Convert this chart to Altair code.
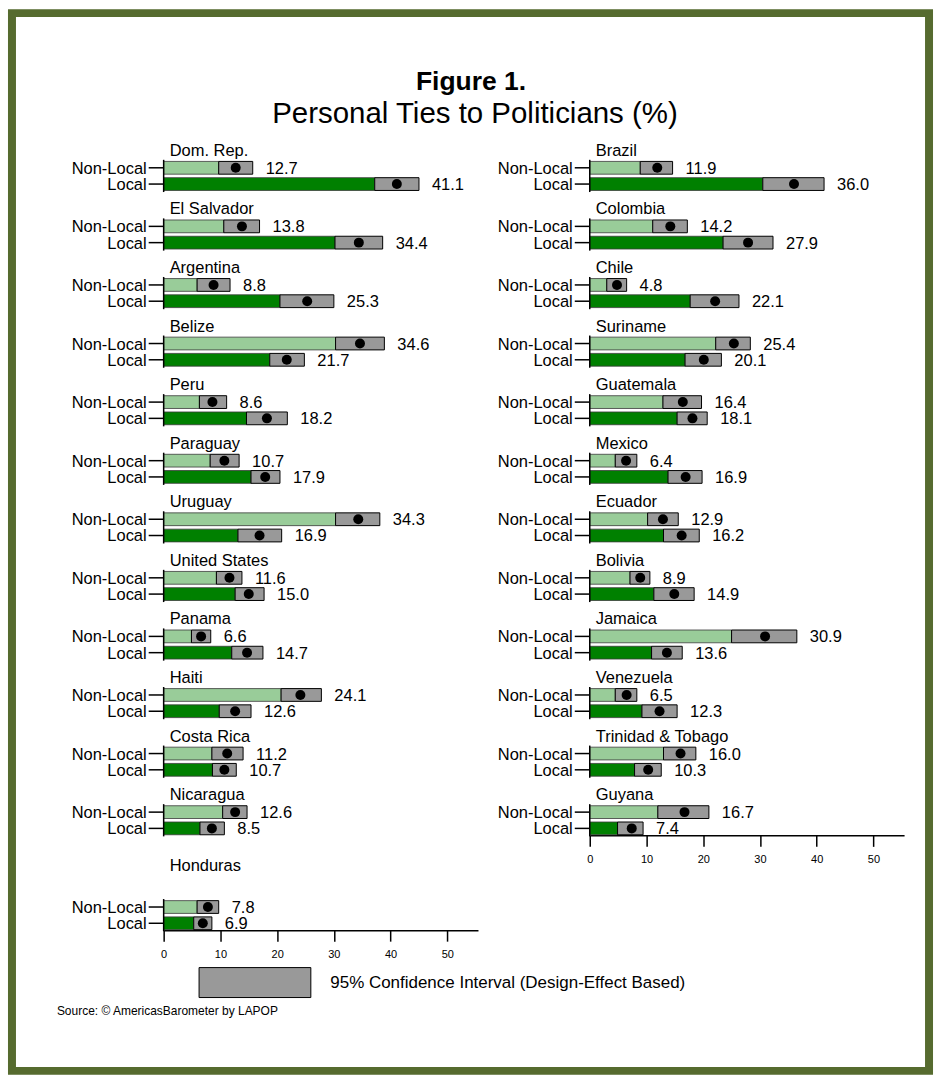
import altair as alt
import pandas as pd

# ---------------- data ----------------
left_countries = ["Dom. Rep.", "El Salvador", "Argentina", "Belize", "Peru", "Paraguay",
                  "Uruguay", "United States", "Panama", "Haiti", "Costa Rica", "Nicaragua", "Honduras"]
left_nonlocal = [12.7, 13.8, 8.8, 34.6, 8.6, 10.7, 34.3, 11.6, 6.6, 24.1, 11.2, 12.6, 7.8]
left_nonlocal_lo = [9.7, 10.6, 5.9, 30.3, 6.3, 8.2, 30.3, 9.3, 4.9, 20.7, 8.5, 10.4, 5.9]
left_nonlocal_hi = [15.7, 16.9, 11.7, 38.9, 11.1, 13.3, 38.1, 13.8, 8.3, 27.8, 14.0, 14.7, 9.7]
left_local = [41.1, 34.4, 25.3, 21.7, 18.2, 17.9, 16.9, 15.0, 14.7, 12.6, 10.7, 8.5, 6.9]
left_local_lo = [37.2, 30.2, 20.5, 18.7, 14.6, 15.4, 13.1, 12.6, 12.0, 9.8, 8.6, 6.4, 5.3]
left_local_hi = [45.0, 38.6, 30.0, 24.8, 21.8, 20.5, 20.8, 17.7, 17.5, 15.4, 12.8, 10.7, 8.5]

right_countries = ["Brazil", "Colombia", "Chile", "Suriname", "Guatemala", "Mexico", "Ecuador",
                   "Bolivia", "Jamaica", "Venezuela", "Trinidad & Tobago", "Guyana"]
right_nonlocal = [11.9, 14.2, 4.8, 25.4, 16.4, 6.4, 12.9, 8.9, 30.9, 6.5, 16.0, 16.7]
right_nonlocal_lo = [8.9, 11.1, 3.0, 22.2, 12.9, 4.5, 10.2, 7.1, 25.0, 4.5, 13.0, 12.0]
right_nonlocal_hi = [14.6, 17.2, 6.5, 28.3, 19.7, 8.3, 15.6, 10.6, 36.5, 8.3, 18.7, 21.0]
right_local = [36.0, 27.9, 22.1, 20.1, 18.1, 16.9, 16.2, 14.9, 13.6, 12.3, 10.3, 7.4]
right_local_lo = [30.5, 23.5, 17.7, 16.8, 15.4, 13.8, 13.0, 11.3, 10.9, 9.2, 7.9, 4.9]
right_local_hi = [41.3, 32.3, 26.3, 23.2, 20.7, 19.8, 19.3, 18.4, 16.3, 15.4, 12.6, 9.4]

x_ticks = [0, 10, 20, 30, 40, 50]
row_labels = ["Non-Local", "Local"]
title_text = "Figure 1."
subtitle_text = "Personal Ties to Politicians (%)"
legend_text = "95% Confidence Interval (Design-Effect Based)"
source_text = "Source: \u00a9 AmericasBarometer by  LAPOP"

# ---------------- styling / layout ----------------
FONT = "Liberation Sans"
LIGHT = "#99CC99"
DARK = "#008000"
GRAY = "#999999"
OLIVE = "#566B2F"
COL_W = 315
LEFT_H = 791
RIGHT_H = 696
XMAX = 55.4
PITCH = 58.7
NL_OFF = 27.0
ROW_GAP = 16.3
HALF_BAR = 6.4
FS = 16.5

X_AXIS = alt.Axis(values=x_ticks, title=None, grid=False, labelFontSize=11, labelFont=FONT,
                  labelColor="black", tickSize=11, tickWidth=1.5, tickColor="black",
                  domainColor="black", domainWidth=1.5, labelPadding=7, labelFlush=False)


def build_frame(countries, nl, nl_lo, nl_hi, lo, lo_lo, lo_hi, slots, title_gaps):
    rows = []
    panels = []
    for i, c in enumerate(countries):
        y_nl = NL_OFF + PITCH * slots[i]
        y_l = y_nl + ROW_GAP
        panels.append({"country": c, "ty": y_nl - title_gaps[i],
                       "seg_top": y_nl - 8, "seg_bot": y_l + 8})
        for kind, yc, v, a, b in [(row_labels[0], y_nl, nl[i], nl_lo[i], nl_hi[i]),
                                  (row_labels[1], y_l, lo[i], lo_lo[i], lo_hi[i])]:
            rows.append({"country": c, "kind": kind, "yc": yc, "y0": yc - HALF_BAR,
                         "y1": yc + HALF_BAR, "value": v, "lo": a, "hi": b,
                         "ci": legend_text, "zero": 0.0})
    return pd.DataFrame(rows), pd.DataFrame(panels)


def column_chart(df, pf, height, extra_layers=()):
    yscale = alt.Scale(domain=[0, height], reverse=True, nice=False, zero=False)
    xscale = alt.Scale(domain=[0, XMAX], nice=False, zero=False)
    base = alt.Chart(df)
    Y = lambda f: alt.Y(f, type="quantitative", scale=yscale, axis=None)

    bars = base.mark_rect(stroke="#3a3a3a", strokeWidth=0.8).encode(
        x=alt.X("zero:Q", scale=xscale, axis=X_AXIS),
        x2="lo:Q",
        y=Y("y0"), y2="y1:Q",
        fill=alt.Fill("kind:N", scale=alt.Scale(domain=row_labels, range=[LIGHT, DARK]), legend=None),
    )
    ci = base.mark_rect(stroke="black", strokeWidth=1).encode(
        x=alt.X("lo:Q", scale=xscale, axis=X_AXIS), x2="hi:Q",
        y=Y("y0"), y2="y1:Q",
        color=alt.Color("ci:N", scale=alt.Scale(domain=[legend_text], range=[GRAY]),
                        legend=alt.Legend(title=None, orient="none", legendX=35, legendY=787,
                                          symbolType="M-1,-0.268H1V0.268H-1Z", symbolSize=12544,
                                          symbolStrokeColor="black", symbolStrokeWidth=1,
                                          symbolOpacity=1, labelFontSize=17, labelFont=FONT,
                                          labelColor="black", labelOffset=19, padding=0,
                                          labelLimit=700)),
    )
    dots = base.mark_circle(size=100, color="black", opacity=1).encode(
        x=alt.X("value:Q", scale=xscale, axis=X_AXIS), y=Y("yc"))
    vals = base.mark_text(align="left", baseline="middle", dx=13, dy=1, fontSize=FS,
                          font=FONT, color="black").encode(
        x=alt.X("hi:Q", scale=xscale, axis=X_AXIS), y=Y("yc"),
        text=alt.Text("value:Q", format=".1f"))
    ticks = base.mark_rule(color="black", strokeWidth=1.5).encode(
        x=alt.value(-15), x2=alt.value(0), y=Y("yc"))
    ylabels = base.mark_text(align="right", baseline="middle", dy=1, fontSize=FS,
                             font=FONT, color="black").encode(
        x=alt.value(-17), y=Y("yc"), text="kind:N")
    pbase = alt.Chart(pf)
    segs = pbase.mark_rule(color="black", strokeWidth=1.5).encode(
        x=alt.value(0), y=Y("seg_top"), y2="seg_bot:Q")
    titles = pbase.mark_text(align="left", baseline="middle", fontSize=FS, font=FONT,
                             color="black").encode(
        x=alt.value(6), y=Y("ty"), text="country:N")
    layers = [bars, ci, dots, vals, ticks, ylabels, segs, titles] + list(extra_layers)
    return alt.layer(*layers).properties(width=COL_W, height=height)


left_df, left_pf = build_frame(left_countries, left_nonlocal, left_nonlocal_lo, left_nonlocal_hi,
                               left_local, left_local_lo, left_local_hi,
                               slots=list(range(12)) + [12.62], title_gaps=[17] * 12 + [41.3])
right_df, right_pf = build_frame(right_countries, right_nonlocal, right_nonlocal_lo, right_nonlocal_hi,
                                 right_local, right_local_lo, right_local_hi,
                                 slots=list(range(12)), title_gaps=[17] * 12)

one = pd.DataFrame({"t": [title_text], "s": [subtitle_text], "src": [source_text]})
deco = alt.Chart(one)
frame = deco.mark_rect(fillOpacity=0, stroke=OLIVE, strokeWidth=8).encode(
    x=alt.value(-152), x2=alt.value(767), y=alt.value(-128), y2=alt.value(932))
t1 = deco.mark_text(align="center", baseline="middle", fontSize=26.5, fontWeight="bold",
                    font=FONT, color="black").encode(x=alt.value(308), y=alt.value(-59), text="t:N")
t2 = deco.mark_text(align="center", baseline="middle", fontSize=29.5, font=FONT,
                    color="black").encode(x=alt.value(312), y=alt.value(-27), text="s:N")
src = deco.mark_text(align="left", baseline="middle", fontSize=12, font=FONT,
                     color="black").encode(x=alt.value(-107), y=alt.value(872), text="src:N")

left = column_chart(left_df, left_pf, LEFT_H, extra_layers=[frame, t1, t2, src])
right = column_chart(right_df, right_pf, RIGHT_H)

chart = alt.hconcat(left, right, spacing=112, bounds="flush").properties(
    padding={"left": 8, "top": 8, "right": 8, "bottom": 6},
    background="white",
).configure_view(strokeWidth=0, stroke="transparent")

chart.save("out.html", embed_options={"renderer": "svg", "actions": False})
